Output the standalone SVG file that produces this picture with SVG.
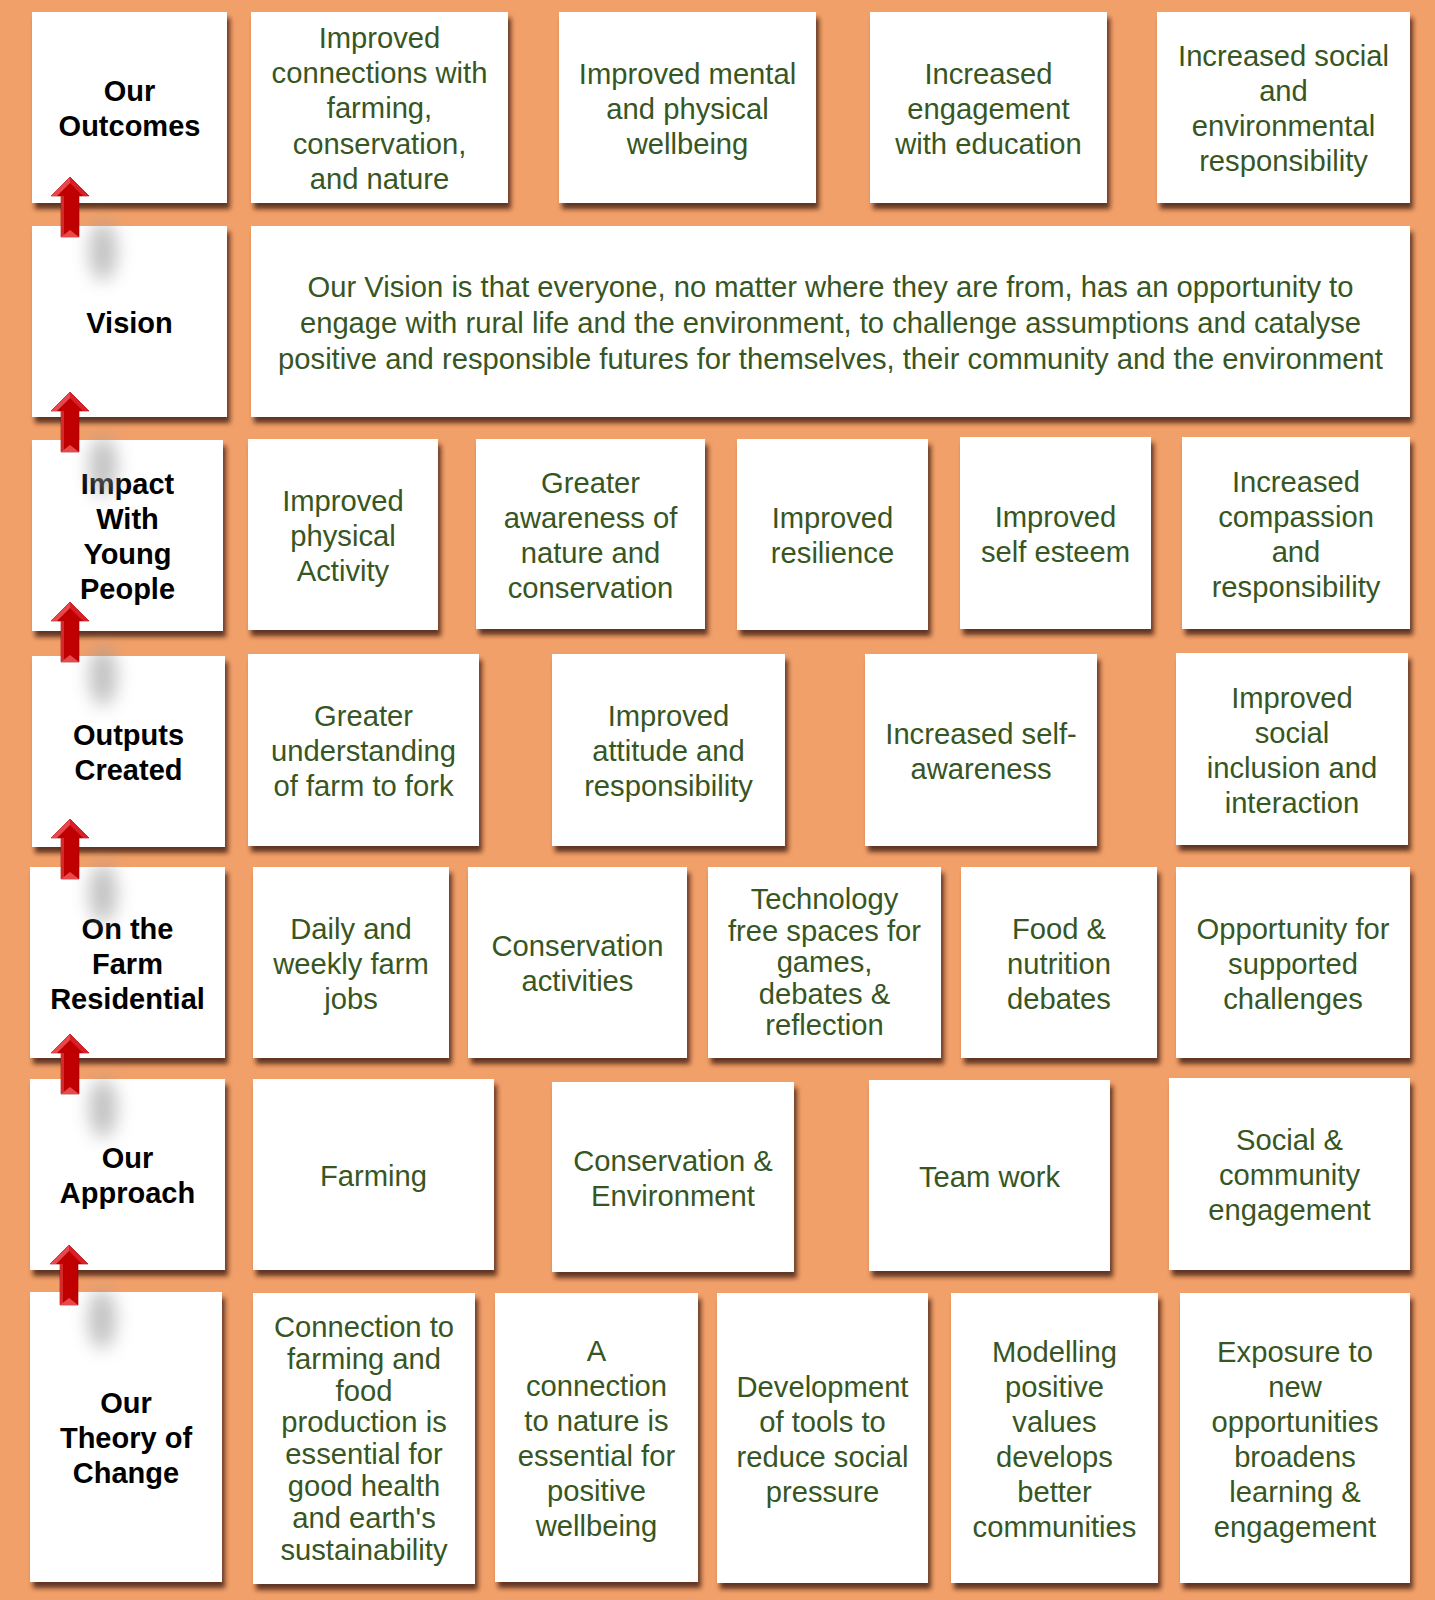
<svg xmlns="http://www.w3.org/2000/svg" xmlns:xlink="http://www.w3.org/1999/xlink" width="1435" height="1600" viewBox="0 0 1435 1600">
<style>
.bg{fill:#F2A069}
.card{fill:#FFFFFF;filter:url(#sh)}
.t{font-family:"Liberation Sans",Arial,sans-serif;font-size:29.2px;fill:#375623;text-anchor:middle}
.lbl{font-family:"Liberation Sans",Arial,sans-serif;font-size:29px;font-weight:bold;fill:#000000;text-anchor:middle}
</style>
<defs>
<filter id="sh" x="-10%" y="-10%" width="125%" height="130%">
<feDropShadow dx="3" dy="6" stdDeviation="2.5" flood-color="#3a1f0a" flood-opacity="0.8"/>
</filter>
<filter id="blur" filterUnits="userSpaceOnUse" x="-20" y="10" width="110" height="130">
<feGaussianBlur stdDeviation="9"/>
</filter>
<g id="arrow">
<ellipse cx="33" cy="74" rx="14" ry="30" fill="#9a9a9a" opacity="0.6" filter="url(#blur)"/>
<polygon points="0,0 19,19 9,19 9,60 -9,60 -9,19 -19,19" fill="#C00000" stroke="#A00000" stroke-width="0.6"/>
<polygon points="0,0 -19,19 -13,19 0,6" fill="#E8484C"/>
<polygon points="0,0 19,19 13,19 0,6" fill="#D82028"/>
<rect x="-9" y="19" width="3" height="41" fill="#D42A2A"/>
<polygon points="-9,60 9,60 0,53" fill="#E8484C"/>
</g>
</defs>
<rect class="bg" x="0" y="0" width="1435" height="1600"/>

<g id="row-outcomes">
<g id="label-outcomes"><rect class="card" x="32" y="12" width="195" height="191"/><text class="lbl" x="129.5" y="101"><tspan x="129.5">Our</tspan><tspan x="129.5" dy="35">Outcomes</tspan></text></g>
<g id="outcome-1"><rect class="card" x="251" y="12" width="257" height="191"/><text class="t" x="379.5" y="48"><tspan x="379.5">Improved</tspan><tspan x="379.5" dy="35.2">connections with</tspan><tspan x="379.5" dy="35.2">farming,</tspan><tspan x="379.5" dy="35.2">conservation,</tspan><tspan x="379.5" dy="35.2">and nature</tspan></text></g>
<g id="outcome-2"><rect class="card" x="559" y="12" width="257" height="191"/><text class="t" x="687.5" y="83.5"><tspan x="687.5">Improved mental</tspan><tspan x="687.5" dy="35">and physical</tspan><tspan x="687.5" dy="35">wellbeing</tspan></text></g>
<g id="outcome-3"><rect class="card" x="870" y="12" width="237" height="191"/><text class="t" x="988.5" y="83.5"><tspan x="988.5">Increased</tspan><tspan x="988.5" dy="35">engagement</tspan><tspan x="988.5" dy="35">with education</tspan></text></g>
<g id="outcome-4"><rect class="card" x="1157" y="12" width="253" height="191"/><text class="t" x="1283.5" y="66"><tspan x="1283.5">Increased social</tspan><tspan x="1283.5" dy="35">and</tspan><tspan x="1283.5" dy="35">environmental</tspan><tspan x="1283.5" dy="35">responsibility</tspan></text></g>
</g>

<g id="row-vision">
<g id="label-vision"><rect class="card" x="32" y="226" width="195" height="191"/><text class="lbl" x="129.5" y="332.5">Vision</text></g>
<g id="vision"><rect class="card" x="251" y="226" width="1159" height="191"/><text class="t" x="830.5" y="296.5"><tspan x="830.5">Our Vision is that everyone, no matter where they are from, has an opportunity to</tspan><tspan x="830.5" dy="36">engage with rural life and the environment, to challenge assumptions and catalyse</tspan><tspan x="830.5" dy="36">positive and responsible futures for themselves, their community and the environment</tspan></text></g>
</g>

<g id="row-impact">
<g id="label-impact"><rect class="card" x="32" y="440" width="191" height="191"/><text class="lbl" x="127.5" y="494"><tspan x="127.5">Impact</tspan><tspan x="127.5" dy="35">With</tspan><tspan x="127.5" dy="35">Young</tspan><tspan x="127.5" dy="35">People</tspan></text></g>
<g id="impact-1"><rect class="card" x="248" y="439" width="190" height="191"/><text class="t" x="343" y="510.5"><tspan x="343">Improved</tspan><tspan x="343" dy="35">physical</tspan><tspan x="343" dy="35">Activity</tspan></text></g>
<g id="impact-2"><rect class="card" x="476" y="439" width="229" height="190"/><text class="t" x="590.5" y="492.5"><tspan x="590.5">Greater</tspan><tspan x="590.5" dy="35">awareness of</tspan><tspan x="590.5" dy="35">nature and</tspan><tspan x="590.5" dy="35">conservation</tspan></text></g>
<g id="impact-3"><rect class="card" x="737" y="439" width="191" height="191"/><text class="t" x="832.5" y="528"><tspan x="832.5">Improved</tspan><tspan x="832.5" dy="35">resilience</tspan></text></g>
<g id="impact-4"><rect class="card" x="960" y="437" width="191" height="192"/><text class="t" x="1055.5" y="526.5"><tspan x="1055.5">Improved</tspan><tspan x="1055.5" dy="35">self esteem</tspan></text></g>
<g id="impact-5"><rect class="card" x="1182" y="437" width="228" height="192"/><text class="t" x="1296" y="491.5"><tspan x="1296">Increased</tspan><tspan x="1296" dy="35">compassion</tspan><tspan x="1296" dy="35">and</tspan><tspan x="1296" dy="35">responsibility</tspan></text></g>
</g>

<g id="row-outputs">
<g id="label-outputs"><rect class="card" x="32" y="656" width="193" height="191"/><text class="lbl" x="128.5" y="745"><tspan x="128.5">Outputs</tspan><tspan x="128.5" dy="35">Created</tspan></text></g>
<g id="output-1"><rect class="card" x="248" y="654" width="231" height="192"/><text class="t" x="363.5" y="726"><tspan x="363.5">Greater</tspan><tspan x="363.5" dy="35">understanding</tspan><tspan x="363.5" dy="35">of farm to fork</tspan></text></g>
<g id="output-2"><rect class="card" x="552" y="654" width="233" height="192"/><text class="t" x="668.5" y="726"><tspan x="668.5">Improved</tspan><tspan x="668.5" dy="35">attitude and</tspan><tspan x="668.5" dy="35">responsibility</tspan></text></g>
<g id="output-3"><rect class="card" x="865" y="654" width="232" height="192"/><text class="t" x="981" y="743.5"><tspan x="981">Increased self-</tspan><tspan x="981" dy="35">awareness</tspan></text></g>
<g id="output-4"><rect class="card" x="1176" y="653" width="232" height="192"/><text class="t" x="1292" y="707.5"><tspan x="1292">Improved</tspan><tspan x="1292" dy="35">social</tspan><tspan x="1292" dy="35">inclusion and</tspan><tspan x="1292" dy="35">interaction</tspan></text></g>
</g>

<g id="row-residential">
<g id="label-residential"><rect class="card" x="30" y="867" width="195" height="191"/><text class="lbl" x="127.5" y="938.5"><tspan x="127.5">On the</tspan><tspan x="127.5" dy="35">Farm</tspan><tspan x="127.5" dy="35">Residential</tspan></text></g>
<g id="residential-1"><rect class="card" x="253" y="867" width="196" height="191"/><text class="t" x="351" y="938.5"><tspan x="351">Daily and</tspan><tspan x="351" dy="35">weekly farm</tspan><tspan x="351" dy="35">jobs</tspan></text></g>
<g id="residential-2"><rect class="card" x="468" y="867" width="219" height="191"/><text class="t" x="577.5" y="956"><tspan x="577.5">Conservation</tspan><tspan x="577.5" dy="35">activities</tspan></text></g>
<g id="residential-3"><rect class="card" x="708" y="867" width="233" height="191"/><text class="t" x="824.5" y="909"><tspan x="824.5">Technology</tspan><tspan x="824.5" dy="31.5">free spaces for</tspan><tspan x="824.5" dy="31.5">games,</tspan><tspan x="824.5" dy="31.5">debates &amp;</tspan><tspan x="824.5" dy="31.5">reflection</tspan></text></g>
<g id="residential-4"><rect class="card" x="961" y="867" width="196" height="191"/><text class="t" x="1059" y="938.5"><tspan x="1059">Food &amp;</tspan><tspan x="1059" dy="35">nutrition</tspan><tspan x="1059" dy="35">debates</tspan></text></g>
<g id="residential-5"><rect class="card" x="1176" y="867" width="234" height="191"/><text class="t" x="1293" y="938.5"><tspan x="1293">Opportunity for</tspan><tspan x="1293" dy="35">supported</tspan><tspan x="1293" dy="35">challenges</tspan></text></g>
</g>

<g id="row-approach">
<g id="label-approach"><rect class="card" x="30" y="1079" width="195" height="191"/><text class="lbl" x="127.5" y="1168"><tspan x="127.5">Our</tspan><tspan x="127.5" dy="35">Approach</tspan></text></g>
<g id="approach-1"><rect class="card" x="253" y="1079" width="241" height="191"/><text class="t" x="373.5" y="1185.5">Farming</text></g>
<g id="approach-2"><rect class="card" x="552" y="1082" width="242" height="190"/><text class="t" x="673" y="1170.5"><tspan x="673">Conservation &amp;</tspan><tspan x="673" dy="35">Environment</tspan></text></g>
<g id="approach-3"><rect class="card" x="869" y="1080" width="241" height="191"/><text class="t" x="989.5" y="1186.5">Team work</text></g>
<g id="approach-4"><rect class="card" x="1169" y="1078" width="241" height="192"/><text class="t" x="1289.5" y="1150"><tspan x="1289.5">Social &amp;</tspan><tspan x="1289.5" dy="35">community</tspan><tspan x="1289.5" dy="35">engagement</tspan></text></g>
</g>

<g id="row-theory">
<g id="label-theory"><rect class="card" x="30" y="1292" width="192" height="290"/><text class="lbl" x="126" y="1413"><tspan x="126">Our</tspan><tspan x="126" dy="35">Theory of</tspan><tspan x="126" dy="35">Change</tspan></text></g>
<g id="theory-1"><rect class="card" x="253" y="1293" width="222" height="291"/><text class="t" x="364" y="1337"><tspan x="364">Connection to</tspan><tspan x="364" dy="31.8">farming and</tspan><tspan x="364" dy="31.8">food</tspan><tspan x="364" dy="31.8">production is</tspan><tspan x="364" dy="31.8">essential for</tspan><tspan x="364" dy="31.8">good health</tspan><tspan x="364" dy="31.8">and earth's</tspan><tspan x="364" dy="31.8">sustainability</tspan></text></g>
<g id="theory-2"><rect class="card" x="495" y="1293" width="203" height="289"/><text class="t" x="596.5" y="1361"><tspan x="596.5">A</tspan><tspan x="596.5" dy="35">connection</tspan><tspan x="596.5" dy="35">to nature is</tspan><tspan x="596.5" dy="35">essential for</tspan><tspan x="596.5" dy="35">positive</tspan><tspan x="596.5" dy="35">wellbeing</tspan></text></g>
<g id="theory-3"><rect class="card" x="717" y="1293" width="211" height="290"/><text class="t" x="822.5" y="1396.5"><tspan x="822.5">Development</tspan><tspan x="822.5" dy="35">of tools to</tspan><tspan x="822.5" dy="35">reduce social</tspan><tspan x="822.5" dy="35">pressure</tspan></text></g>
<g id="theory-4"><rect class="card" x="951" y="1293" width="207" height="290"/><text class="t" x="1054.5" y="1361.5"><tspan x="1054.5">Modelling</tspan><tspan x="1054.5" dy="35">positive</tspan><tspan x="1054.5" dy="35">values</tspan><tspan x="1054.5" dy="35">develops</tspan><tspan x="1054.5" dy="35">better</tspan><tspan x="1054.5" dy="35">communities</tspan></text></g>
<g id="theory-5"><rect class="card" x="1180" y="1293" width="230" height="290"/><text class="t" x="1295" y="1361.5"><tspan x="1295">Exposure to</tspan><tspan x="1295" dy="35">new</tspan><tspan x="1295" dy="35">opportunities</tspan><tspan x="1295" dy="35">broadens</tspan><tspan x="1295" dy="35">learning &amp;</tspan><tspan x="1295" dy="35">engagement</tspan></text></g>
</g>

<g id="connectors">
<use xlink:href="#arrow" href="#arrow" x="70" y="177"/>
<use xlink:href="#arrow" href="#arrow" x="70" y="392"/>
<use xlink:href="#arrow" href="#arrow" x="70" y="602"/>
<use xlink:href="#arrow" href="#arrow" x="70" y="819"/>
<use xlink:href="#arrow" href="#arrow" x="70" y="1034"/>
<use xlink:href="#arrow" href="#arrow" x="69" y="1245"/>
</g>
</svg>
